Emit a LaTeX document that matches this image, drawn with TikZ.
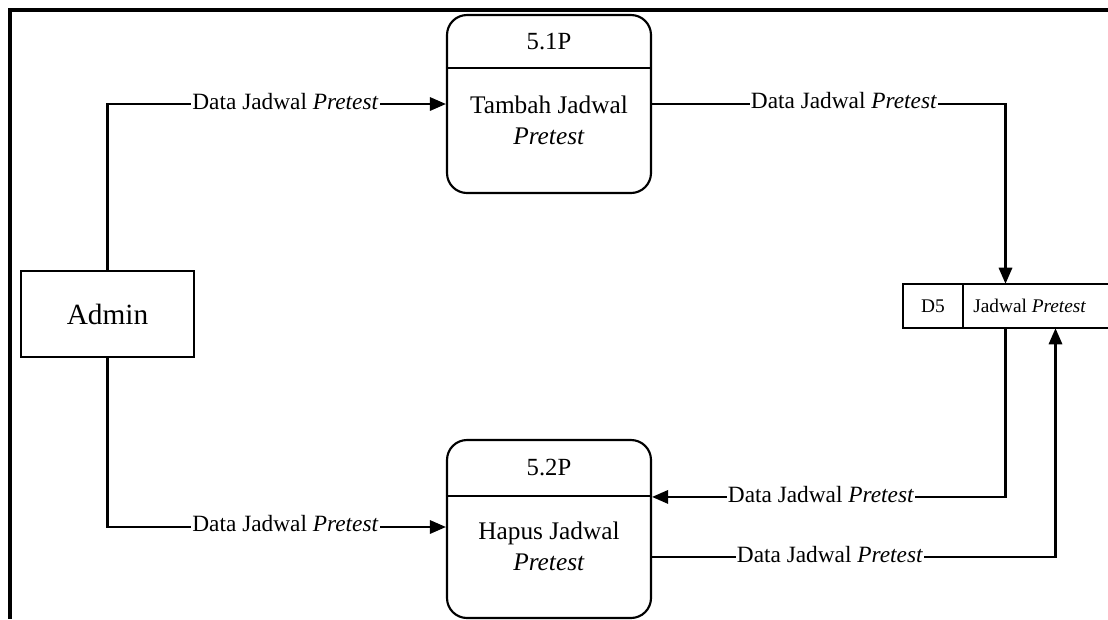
\documentclass[tikz,border=0pt]{standalone}
\usepackage{fontspec}
\setmainfont{Liberation Serif}
\usetikzlibrary{arrows.meta,calc}
\tikzset{
  conn/.style={line width=1.6pt,-{Triangle[length=12pt,width=10pt]}},
  plain/.style={line width=1.6pt},
  proc/.style={draw,line width=1.6pt,rounded corners=15pt,minimum width=153pt,minimum height=133.5pt,inner sep=0pt},
  ent/.style={draw,line width=1.6pt,minimum width=129.75pt,minimum height=64.5pt,inner sep=0pt,font=\fontsize{22}{26}\selectfont},
  lbl/.style={fill=white,inner xsep=1pt,inner ysep=2pt,font=\fontsize{17.5}{21}\selectfont},
  ptext/.style={align=center,font=\fontsize{19}{23}\selectfont},
  pnum/.style={font=\fontsize{18.5}{22}\selectfont},
}
\begin{document}
\begin{tikzpicture}[x=0.75pt,y=-0.75pt]
\useasboundingbox (0,0) rectangle (1108,619);
% frame
\draw[line width=3pt] (8,9.5) -- (1108,9.5);
\draw[line width=3pt] (9.5,8) -- (9.5,619);
% entity
\node[ent] (admin) at (107.5,314) {Admin};
% processes
\node[proc] (p1) at (549,104) {};
\draw[plain] ([yshift=-40.5pt]p1.north west) -- ([yshift=-40.5pt]p1.north east);
\node[pnum] (p1n) at (549,42) {5.1P};
\node[ptext] (p1t) at (549,120) {Tambah Jadwal\\\textit{Pretest}};
\node[proc] (p2) at (549,529) {};
\draw[plain] ([yshift=-42.75pt]p2.north west) -- ([yshift=-42.75pt]p2.north east);
\node[pnum] (p2n) at (549,468) {5.2P};
\node[ptext] (p2t) at (549,546) {Hapus Jadwal\\\textit{Pretest}};
% data store
\node[minimum width=153.75pt,minimum height=33pt,inner sep=0pt] (store) at (1005.5,306) {};
\draw[plain] (store.north east) -- (store.north west) -- (store.south west) -- (store.south east);
\draw[plain] ([xshift=45pt]store.north west) -- ([xshift=45pt]store.south west);
\node[font=\fontsize{14.5}{17}\selectfont] (d5) at (933,306) {D5};
\node[font=\fontsize{14.5}{17}\selectfont,anchor=west,inner sep=0pt] (sname) at (973,306) {Jadwal \textit{Pretest}};
% connectors
\draw[conn] (admin.north) |- (p1.west);
\draw[conn] (admin.south) |- ([yshift=1.5pt]p2.west);
\draw[conn] (p1.east) -| (store.north);
\draw[conn] (store.south) |- ([yshift=-43.5pt]p2.north east);
\draw[conn] ([yshift=-88.5pt]p2.north east) -| ([xshift=37.5pt]store.south);
% labels
\node[lbl] (l1) at (285.5,102) {Data Jadwal \textit{Pretest}};
\node[lbl] (l2) at (844,101) {Data Jadwal \textit{Pretest}};
\node[lbl] (l3) at (285.5,524) {Data Jadwal \textit{Pretest}};
\node[lbl] (l4) at (821,495) {Data Jadwal \textit{Pretest}};
\node[lbl] (l5) at (830,555) {Data Jadwal \textit{Pretest}};
\end{tikzpicture}
\end{document}
